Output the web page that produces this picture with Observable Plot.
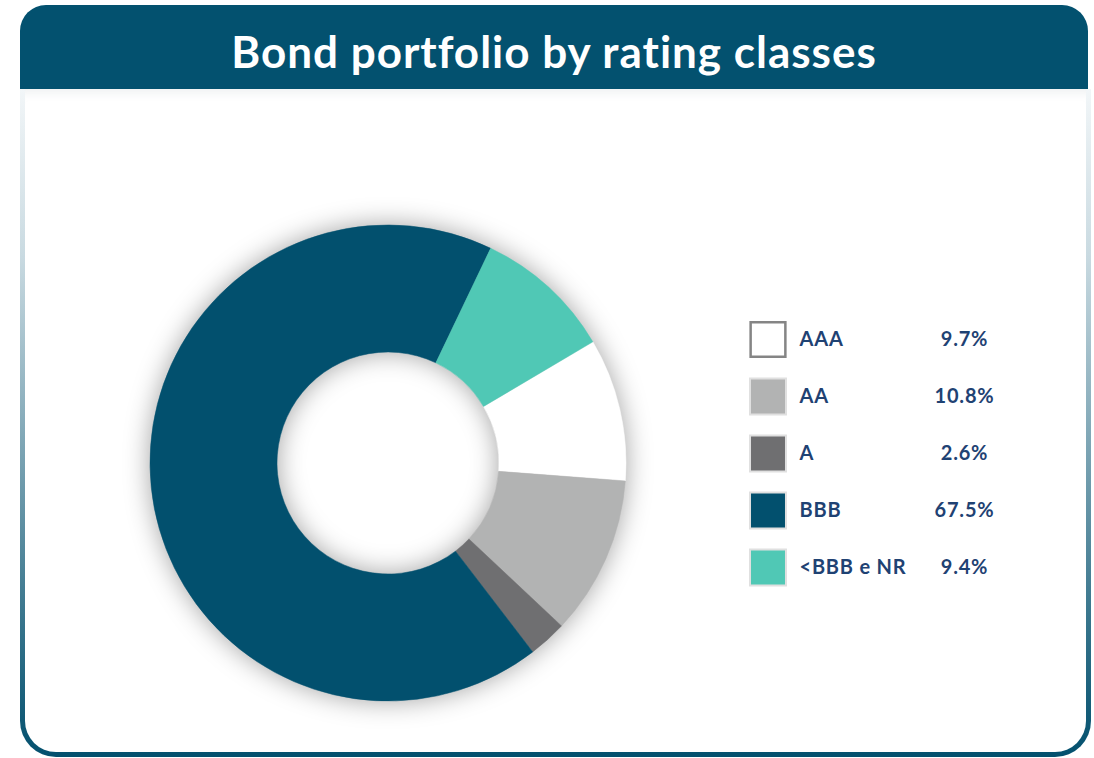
<!DOCTYPE html>
<html>
<head>
<meta charset="utf-8">
<script src="https://cdn.jsdelivr.net/npm/d3@7"></script>
<script src="https://cdn.jsdelivr.net/npm/@observablehq/plot@0.6"></script>
<style>
  html, body { margin: 0; padding: 0; background: #fff; width: 1094px; height: 758px; overflow: hidden; font-family: Lato, "Open Sans", sans-serif; }
  #header { position: absolute; left: 20px; top: 5px; width: 1068px; height: 84px; background: #03516f; border-radius: 26px 26px 0 0;
            color: #fff; font: 700 44px Lato, sans-serif; letter-spacing: 1px; text-align: center; line-height: 92px; box-sizing: border-box; }
  #frame { position: absolute; left: 20px; top: 89px; width: 1071px; height: 668px; border-radius: 0 0 36px 36px;
           background: linear-gradient(#f2f6f8 0%, #c9dae1 25%, #3b778e 78%, #03506e 100%); }
  #inner { position: absolute; left: 5px; right: 5px; top: 0; bottom: 5px; background: #fff; border-radius: 0 0 31px 31px;
           box-shadow: inset 0 12px 10px -8px rgba(120,140,150,0.12); }
  #donut { position: absolute; left: 108px; top: 183px; }
  #legend { position: absolute; left: 740px; top: 300px; }
  #legend text { letter-spacing: 0.8px; }
  svg { overflow: visible; }
</style>
</head>
<body>
<div id="frame"><div id="inner"></div></div>
<div id="header">Bond portfolio by rating classes</div>
<div id="donut"></div>
<div id="legend"></div>
<script>
// ---- data ----
const categories = ["AAA", "AA", "A", "BBB", "<BBB e NR"];
const shares = [9.7, 10.8, 2.6, 67.5, 9.4];
const colors = ["#ffffff", "#b2b3b3", "#6f6f71", "#02506e", "#50c8b5"];

const data = categories.map((cat, i) => ({cat, share: shares[i]}));
const fmt = v => d3.format(".1f")(v) + "%";

// ---- donut ----
const startDeg = 59.4; // rotation of the first slice (AAA)
const innerRatio = 111 / 238;
const pie = d3.pie().sort(null).value(d => d.share)
  .startAngle(startDeg * Math.PI / 180)
  .endAngle(startDeg * Math.PI / 180 + 2 * Math.PI);
const arcs = pie(data);
arcs.forEach(a => { a.mid = (a.startAngle + a.endAngle) / 2; });

function donutMark(index, scales) {
  const cx = scales.x(0), cy = scales.y(0);
  const R = scales.x(1) - scales.x(0);
  const arc = d3.arc().innerRadius(R * innerRatio).outerRadius(R);
  const g = d3.create("svg:g")
    .attr("transform", `translate(${cx},${cy})`)
    .style("filter", "drop-shadow(0px 0px 13px rgba(0,0,0,0.36))");
  g.selectAll("path").data(arcs).join("path")
    .attr("d", arc)
    .attr("fill", d => scales.color(d.data.cat))
    .attr("stroke", d => scales.color(d.data.cat))
    .attr("stroke-width", 0.5);
  return g.node();
}

const donut = Plot.plot({
  width: 560, height: 560, margin: 42,
  x: {domain: [-1, 1], axis: null},
  y: {domain: [-1, 1], axis: null},
  color: {domain: categories, range: colors},
  marks: [
    Plot.dot(arcs, {x: d => 0.7 * Math.sin(d.mid), y: d => 0.7 * Math.cos(d.mid), fill: d => d.data.cat, r: 0}),
    donutMark
  ]
});
document.getElementById("donut").appendChild(donut);

// ---- legend ----
const txtColor = "#1f4273";
const legend = Plot.plot({
  width: 300, height: 300, margin: 0,
  x: {domain: [0, 1], axis: null},
  y: {type: "point", domain: categories, range: [38.5, 266.5], padding: 0, axis: null},
  color: {domain: categories, range: colors},
  marks: [
    Plot.dot(data, {filter: d => d.cat !== "AAA", y: "cat", frameAnchor: "left", dx: 27.5, symbol: "square", r: 20.3,
      fill: "cat", stroke: "#e0e0e0", strokeWidth: 2}),
    Plot.dot(data, {filter: d => d.cat === "AAA", y: "cat", frameAnchor: "left", dx: 27.5, symbol: "square", r: 19.6,
      fill: "cat", stroke: "#858585", strokeWidth: 2.5}),
    Plot.text(data, {y: "cat", text: "cat", frameAnchor: "left", dx: 59, textAnchor: "start",
      fontSize: 20, fontWeight: 700, fill: txtColor, fontFamily: "Lato, sans-serif"}),
    Plot.text(data, {y: "cat", text: d => fmt(d.share), frameAnchor: "left", dx: 224, textAnchor: "middle",
      fontSize: 20, fontWeight: 700, fill: txtColor, fontFamily: "Lato, sans-serif"})
  ]
});
document.getElementById("legend").appendChild(legend);
</script>
</body>
</html>
